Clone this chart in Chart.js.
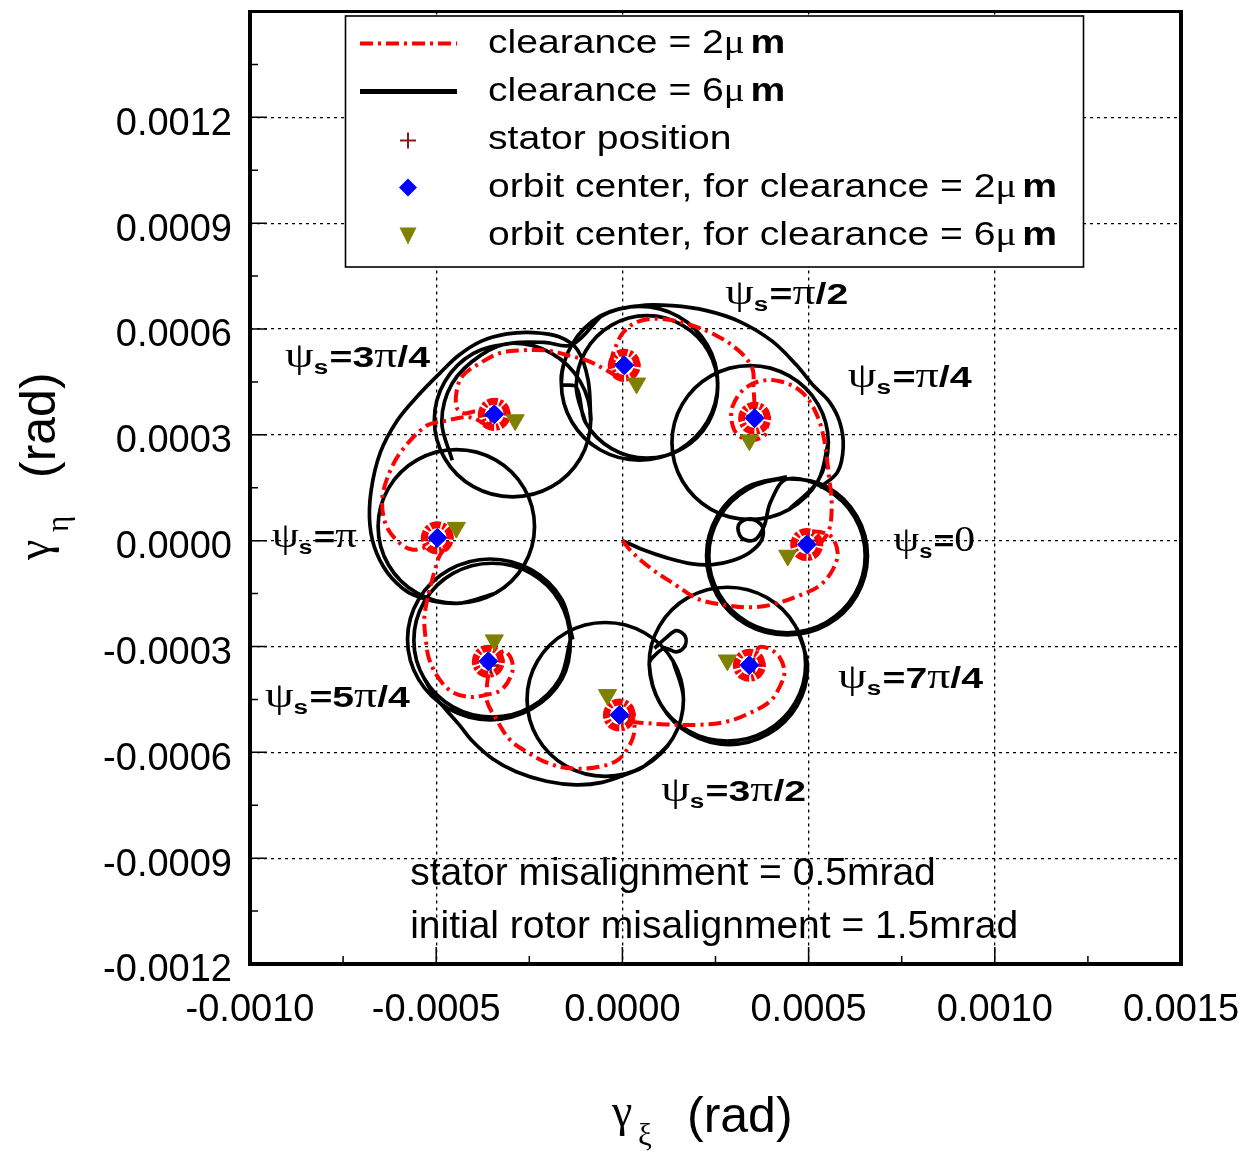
<!DOCTYPE html>
<html>
<head>
<meta charset="utf-8">
<title>Orbit of the rotor tilt</title>
<script src="https://cdn.jsdelivr.net/npm/chart.js"></script>
<style>
  html, body { margin: 0; padding: 0; background: #fff; }
  canvas { display: block; }
</style>
</head>
<body>
<canvas id="c" width="1252" height="1155"></canvas>
<script>
// All coordinates below are listed in units of 1e-4 rad ([gamma_xi, gamma_eta]).
const UNIT = 1e-4;

// Axis ticks (rad)
const xTickValues = [-0.0010, -0.0005, 0, 0.0005, 0.0010, 0.0015];
const xTickLabels = ['-0.0010', '-0.0005', '0.0000', '0.0005', '0.0010', '0.0015'];
const xMinorTicks = [-0.00075, -0.00025, 0.00025, 0.00075, 0.00125];
const yTickValues = [-0.0012, -0.0009, -0.0006, -0.0003, 0, 0.0003, 0.0006, 0.0009, 0.0012];
const yTickLabels = ['-0.0012', '-0.0009', '-0.0006', '-0.0003', '0.0000', '0.0003', '0.0006', '0.0009', '0.0012'];
const yMinorTicks = [-0.00105, -0.00075, -0.00045, -0.00015, 0.00015, 0.00045, 0.00075, 0.00105, 0.00135];

// Stator positions and orbit centres, one per stator angle psi_s = 0, pi/4, ..., 7pi/4
const statorPos = [[5,0],[3.54,3.54],[0,5],[-3.54,3.54],[-5,0],[-3.54,-3.54],[0,-5],[3.54,-3.54]];
const orbitCenter2um = [[4.95,-0.11],[3.55,3.47],[0.05,4.97],[-3.44,3.58],[-4.97,0.08],[-3.60,-3.42],[-0.08,-4.94],[3.41,-3.53]];
const orbitCenter6um = [[4.44,-0.42],[3.41,2.85],[0.38,4.46],[-2.88,3.42],[-4.46,0.37],[-3.44,-2.82],[-0.40,-4.37],[2.82,-3.39]];

// clearance = 2 um : transients between successive stator angles
const redTrack0 = [[0,0],[0.27,-0.34],[0.81,-0.82],[1.45,-1.27],[2.07,-1.67],[2.80,-1.83],[3.41,-1.89],[4.03,-1.81],[4.76,-1.55],[5.30,-1.27],[5.65,-0.82],[5.78,-0.34],[5.62,0.10],[5.30,0.25],[5.00,0.26]];
const redTrack1 = [[5.30,-0.11],[5.55,0.30],[5.62,1.00],[5.56,1.72],[5.38,3.05],[5.11,3.81],[4.76,4.26],[4.22,4.52],[3.68,4.52],[3.23,4.26],[2.96,3.81],[2.93,3.42],[3.06,3.05],[3.41,2.85],[3.82,2.99],[3.90,3.30]];
const redTrack2 = [[3.55,3.84],[3.52,4.35],[3.49,4.88],[3.15,5.36],[2.53,5.81],[1.72,6.15],[0.99,6.29],[0.40,6.20],[0.02,5.90],[-0.18,5.50],[-0.30,5.10],[-0.28,4.85]];
const redTrack3 = [[-0.13,4.65],[-0.43,4.83],[-0.89,5.08],[-1.34,5.22],[-2.04,5.39],[-2.77,5.39],[-3.31,5.31],[-3.84,5.02],[-4.30,4.66],[-4.46,4.18],[-4.44,3.75],[-4.25,3.61],[-3.95,3.66],[-3.74,3.60]];
const redTrack4 = [[-3.62,3.26],[-4.11,3.50],[-4.78,3.39],[-5.27,3.25],[-5.91,2.57],[-6.26,1.92],[-6.45,1.16],[-6.34,0.42],[-5.99,-0.06],[-5.65,-0.25],[-5.32,-0.20],[-5.20,-0.08]];
const redTrack5 = [[-4.79,-0.24],[-4.92,-0.45],[-5.00,-0.71],[-5.13,-1.19],[-5.24,-1.67],[-5.32,-2.23],[-5.27,-2.88],[-5.19,-3.36],[-4.92,-3.92],[-4.57,-4.29],[-4.11,-4.43],[-3.66,-4.37],[-3.23,-4.21],[-2.96,-3.73],[-2.98,-3.36],[-3.17,-3.12],[-3.30,-3.23]];
const redTrack6 = [[-3.60,-3.79],[-3.64,-4.15],[-3.63,-4.57],[-3.39,-5.05],[-3.04,-5.62],[-2.58,-5.98],[-1.96,-6.32],[-1.34,-6.46],[-0.62,-6.41],[-0.08,-6.18],[0.27,-5.62],[0.32,-5.14],[0.22,-4.90]];
const redTrack7 = [[0.22,-5.13],[0.60,-5.17],[1.18,-5.21],[2.07,-5.22],[2.80,-5.13],[3.33,-4.93],[3.95,-4.57],[4.22,-4.15],[4.35,-3.73],[4.22,-3.30],[3.95,-3.07],[3.68,-3.02],[3.59,-3.21]];

// clearance = 2 um : settled orbits
const redOrbit0 = [[5.30,-0.11],[5.25,0.08],[5.13,0.21],[4.95,0.26],[4.77,0.21],[4.65,0.08],[4.60,-0.11],[4.65,-0.30],[4.77,-0.43],[4.95,-0.48],[5.13,-0.43],[5.25,-0.30],[5.30,-0.11],[5.25,0.08]];
const redOrbit1 = [[3.90,3.47],[3.85,3.66],[3.73,3.79],[3.55,3.84],[3.37,3.79],[3.25,3.66],[3.20,3.47],[3.25,3.28],[3.37,3.15],[3.55,3.10],[3.73,3.15],[3.85,3.28],[3.90,3.47],[3.85,3.66]];
const redOrbit2 = [[0.40,4.97],[0.35,5.16],[0.23,5.29],[0.05,5.34],[-0.13,5.29],[-0.25,5.16],[-0.30,4.97],[-0.25,4.78],[-0.13,4.65],[0.05,4.60],[0.23,4.65],[0.35,4.78],[0.40,4.97],[0.35,5.16]];
const redOrbit3 = [[-3.09,3.58],[-3.14,3.77],[-3.26,3.90],[-3.44,3.95],[-3.62,3.90],[-3.74,3.77],[-3.79,3.58],[-3.74,3.39],[-3.62,3.26],[-3.44,3.21],[-3.26,3.26],[-3.14,3.39],[-3.09,3.58],[-3.14,3.77]];
const redOrbit4 = [[-4.62,0.08],[-4.67,0.27],[-4.79,0.40],[-4.97,0.45],[-5.15,0.40],[-5.27,0.27],[-5.32,0.08],[-5.27,-0.11],[-5.15,-0.24],[-4.97,-0.29],[-4.79,-0.24],[-4.67,-0.11],[-4.62,0.08],[-4.67,0.27]];
const redOrbit5 = [[-3.25,-3.42],[-3.30,-3.23],[-3.42,-3.10],[-3.60,-3.05],[-3.78,-3.10],[-3.90,-3.23],[-3.95,-3.42],[-3.90,-3.61],[-3.78,-3.74],[-3.60,-3.79],[-3.42,-3.74],[-3.30,-3.61],[-3.25,-3.42],[-3.30,-3.23]];
const redOrbit6 = [[0.27,-4.94],[0.22,-4.75],[0.10,-4.62],[-0.08,-4.57],[-0.26,-4.62],[-0.38,-4.75],[-0.43,-4.94],[-0.38,-5.13],[-0.26,-5.26],[-0.08,-5.31],[0.10,-5.26],[0.22,-5.13],[0.27,-4.94],[0.22,-4.75]];
const redOrbit7 = [[3.76,-3.53],[3.71,-3.34],[3.59,-3.21],[3.41,-3.16],[3.23,-3.21],[3.11,-3.34],[3.06,-3.53],[3.11,-3.72],[3.23,-3.85],[3.41,-3.90],[3.59,-3.85],[3.71,-3.72],[3.76,-3.53],[3.71,-3.34]];

// clearance = 6 um : transient plus settled orbit for each stator angle
const blackTrack0 = [[0,0],[0.54,-0.25],[1.18,-0.48],[1.88,-0.66],[2.42,-0.68],[2.96,-0.56],[3.41,-0.34],[3.73,0.00],[3.76,0.40],[3.44,0.62],[3.12,0.45],[3.20,0.08],[3.55,0.02],[3.80,0.40],[3.98,1.10],[4.42,1.75],[5.47,1.46],[6.24,0.66],[6.52,-0.43],[6.24,-1.52],[5.47,-2.32],[4.42,-2.61],[3.37,-2.32],[2.60,-1.52],[2.32,-0.43],[2.60,0.66],[3.37,1.46],[4.42,1.75],[5.50,1.52],[6.29,0.70],[6.58,-0.43],[6.29,-1.56],[5.50,-2.38],[4.42,-2.67],[3.34,-2.38],[2.55,-1.56],[2.26,-0.43],[2.55,0.70],[3.34,1.52],[4.42,1.81]];
const blackTrack1 = [[4.48,0.89],[5.25,1.69],[5.53,2.78],[5.25,3.87],[4.48,4.67],[3.43,4.96],[2.38,4.67],[1.61,3.87],[1.33,2.78],[1.61,1.69],[2.38,0.89],[3.43,0.60],[4.48,0.89],[5.25,1.69],[5.53,2.78]];
const blackTrack2 = [[5.30,1.50],[5.78,1.95],[5.93,2.65],[5.84,3.35],[5.55,3.95],[5.11,4.42],[4.68,4.97],[4.03,5.65],[3.15,6.21],[2.26,6.52],[1.34,6.66],[0.46,6.66],[-0.59,6.37],[-1.36,5.55],[-1.64,4.46],[-1.36,3.37],[-0.59,2.57],[0.46,2.28],[1.51,2.57],[2.28,3.37],[2.56,4.46],[2.28,5.55],[1.51,6.35],[0.46,6.64],[-0.59,6.35],[-1.36,5.55],[-1.64,4.46],[-1.24,4.36],[-0.99,3.35],[-0.29,2.61],[0.66,2.34],[1.61,2.61],[2.31,3.35],[2.56,4.36],[2.31,5.37],[1.61,6.11],[0.66,6.38],[-0.29,6.11],[-0.99,5.37],[-1.24,4.36],[-0.99,3.35]];
const blackTrack3 = [[-0.59,6.35],[-1.36,5.55],[-2.10,5.62],[-2.95,5.60],[-4.00,5.31],[-4.77,4.51],[-5.05,3.42],[-4.77,2.33],[-4.00,1.53],[-2.95,1.24],[-1.90,1.53],[-1.13,2.33],[-0.85,3.42],[-1.13,4.51],[-1.90,5.31],[-2.95,5.60],[-3.80,5.26],[-4.57,4.46],[-4.85,3.37],[-4.57,2.28]];
const blackTrack4 = [[-0.85,3.42],[-0.92,4.55],[-1.20,5.40],[-1.70,5.78],[-2.40,5.90],[-3.10,5.86],[-3.80,5.65],[-4.40,5.25],[-4.90,4.75],[-5.50,4.10],[-6.05,3.40],[-6.50,2.50],[-6.75,1.40],[-6.78,0.45],[-6.60,-0.35],[-6.20,-1.05],[-5.59,-1.55],[-4.46,-1.78],[-3.41,-1.49],[-2.64,-0.69],[-2.36,0.40],[-2.64,1.49],[-3.41,2.29],[-4.46,2.58],[-5.51,2.29],[-6.28,1.49],[-6.56,0.40],[-6.28,-0.69],[-5.51,-1.49],[-4.46,-1.78],[-3.41,-1.49]];
const blackTrack5 = [[-1.40,-2.82],[-1.68,-3.91],[-2.45,-4.71],[-3.50,-5.00],[-4.55,-4.71],[-5.32,-3.91],[-5.60,-2.82],[-5.32,-1.73],[-4.55,-0.93],[-3.50,-0.64],[-2.45,-0.93],[-1.68,-1.73],[-1.40,-2.82],[-1.63,-3.94],[-2.44,-4.77],[-3.55,-5.08],[-4.66,-4.77],[-5.47,-3.94],[-5.77,-2.80],[-5.47,-1.66],[-4.66,-0.83],[-3.55,-0.52],[-2.44,-0.83],[-1.63,-1.66],[-1.33,-2.80]];
const blackTrack6 = [[-5.32,-3.91],[-5.05,-4.40],[-4.73,-4.80],[-4.38,-5.22],[-4.03,-5.68],[-3.49,-6.18],[-2.85,-6.55],[-2.04,-6.82],[-1.24,-6.92],[-0.54,-6.85],[0.11,-6.62],[0.59,-6.39],[1.36,-5.59],[1.64,-4.50],[1.36,-3.41],[0.59,-2.61],[-0.46,-2.32],[-1.51,-2.61],[-2.28,-3.41],[-2.56,-4.50],[-2.28,-5.59],[-1.51,-6.39],[-0.46,-6.68],[0.59,-6.39],[1.36,-5.59],[1.64,-4.50],[1.36,-3.41]];
const blackTrack7 = [[0.86,-3.05],[1.21,-2.72],[1.45,-2.55],[1.68,-2.70],[1.68,-2.98],[1.45,-3.15],[1.15,-3.05],[0.90,-3.22],[0.72,-3.50],[1.00,-4.59],[1.77,-5.39],[2.82,-5.68],[3.87,-5.39],[4.64,-4.59],[4.92,-3.50],[4.64,-2.41],[3.87,-1.61],[2.82,-1.32],[1.77,-1.61],[1.00,-2.41],[0.72,-3.50],[1.04,-4.66],[1.82,-5.48],[2.87,-5.78],[3.92,-5.48],[4.69,-4.68],[4.97,-3.58],[4.69,-2.48]];

const redTracks = [redTrack0, redTrack1, redTrack2, redTrack3, redTrack4, redTrack5, redTrack6, redTrack7];
const redOrbits = [redOrbit0, redOrbit1, redOrbit2, redOrbit3, redOrbit4, redOrbit5, redOrbit6, redOrbit7];
const blackTracks = [blackTrack0, blackTrack1, blackTrack2, blackTrack3, blackTrack4, blackTrack5, blackTrack6, blackTrack7];

const SANS = 'Arial, "Liberation Sans", Helvetica, sans-serif';
const SERIF = '"Times New Roman", "Liberation Serif", "DejaVu Serif", serif';
const RED_DASH = [13, 5, 3, 5];

const toXY = arr => arr.map(([x, y]) => ({ x: x * UNIT, y: y * UNIT }));

const lineBase = { showLine: true, pointRadius: 0, pointHoverRadius: 0, pointHitRadius: 0, tension: 0.35, fill: false };

const datasets = [
  { label: 'orbit center, for clearance = 6um', data: toXY(orbitCenter6um), showLine: false,
    pointStyle: 'triangle', pointRotation: 180, pointRadius: 10.5, backgroundColor: '#808000', borderColor: '#808000', borderWidth: 1, order: 0 },
  { label: 'orbit center, for clearance = 2um', data: toXY(orbitCenter2um), showLine: false,
    pointStyle: 'rectRot', pointRadius: 9.5, backgroundColor: '#0000ff', borderColor: '#0000ff', borderWidth: 1, order: 1 },
  { label: 'stator position', data: toXY(statorPos), showLine: false,
    pointStyle: 'cross', pointRadius: 8, borderColor: '#8b1a1a', borderWidth: 2.4, order: 2 },
  ...redTracks.map(p => ({ ...lineBase, label: 'clearance = 2um', data: toXY(p), borderColor: '#ff0000', borderWidth: 4, borderDash: RED_DASH, order: 3 })),
  ...redOrbits.map(p => ({ ...lineBase, label: 'clearance = 2um', data: toXY(p), borderColor: '#ff0000', borderWidth: 7, borderDash: [10, 2, 3, 2], order: 3 })),
  ...blackTracks.map(p => ({ ...lineBase, label: 'clearance = 6um', data: toXY(p), borderColor: '#000000', borderWidth: 3.7, order: 4 }))
];

// ---- text helpers -------------------------------------------------------
function richWidth(ctx, parts) {
  let w = 0;
  parts.forEach(p => { ctx.font = p.f; w += ctx.measureText(p.t).width + (p.gap || 0); });
  return w;
}
function drawRich(ctx, x, y, parts, sx) {
  ctx.save();
  ctx.translate(x, y);
  ctx.scale(sx, 1);
  let cx = 0;
  parts.forEach(p => {
    ctx.font = p.f;
    ctx.fillText(p.t, cx, p.dy || 0);
    cx += ctx.measureText(p.t).width + (p.gap || 0);
  });
  ctx.restore();
}

const G = `35px ${SERIF}`;
const B = `bold 30px ${SANS}`;
function psiParts(tail) {
  return [
    { t: 'ψ', f: G },
    { t: 's', f: `bold 20px ${SANS}`, dy: 7, gap: 1 },
    { t: '=', f: B },
    ...tail.map(([t, k]) => ({ t, f: k === 'g' ? G : B }))
  ];
}

// stator-angle labels: anchor (left, baseline) in 1e-4 rad, drawn width in px
const psiLabels = [
  { x: 2.76,  y: 6.70,  w: 123, tail: [['π','g'],['/2','b']] },
  { x: 6.05,  y: 4.36,  w: 124, tail: [['π','g'],['/4','b']] },
  { x: 7.27,  y: -0.28, w: 82,  tail: [['0','g']] },
  { x: 5.79,  y: -4.17, w: 145, tail: [['7','b'],['π','g'],['/4','b']] },
  { x: 1.04,  y: -7.39, w: 145, tail: [['3','b'],['π','g'],['/2','b']] },
  { x: -9.60, y: -4.71, w: 145, tail: [['5','b'],['π','g'],['/4','b']] },
  { x: -9.41, y: -0.19, w: 85,  tail: [['π','g']] },
  { x: -9.06, y: 4.92,  w: 145, tail: [['3','b'],['π','g'],['/4','b']] }
];

const notes = [
  { x: -5.70, y: -9.76,  text: 'stator misalignment = 0.5mrad' },
  { x: -5.70, y: -11.25, text: 'initial rotor misalignment = 1.5mrad' }
];

function clearanceParts(prefix, n) {
  const f = `34px ${SANS}`;
  return [
    { t: `${prefix}clearance = ${n}`, f },
    { t: 'μ', f: `34px ${SERIF}`, gap: 5 },
    { t: 'm', f: `bold 34px ${SANS}` }
  ];
}

function drawLegend(ctx, a) {
  const L = a.left + 95, T = a.top + 4, W = 738, H = 251;
  ctx.save();
  ctx.fillStyle = '#fff';
  ctx.fillRect(L, T, W, H);
  ctx.strokeStyle = '#000';
  ctx.lineWidth = 1.6;
  ctx.strokeRect(L + 0.5, T + 0.5, W, H);

  const sx0 = L + 15, sx1 = L + 112, mx = L + 63;
  const rows = [T + 28, T + 76, T + 124, T + 172, T + 220];

  // dash-dot red line
  ctx.beginPath();
  ctx.setLineDash(RED_DASH);
  ctx.strokeStyle = '#ff0000';
  ctx.lineWidth = 4;
  ctx.moveTo(sx0, rows[0]); ctx.lineTo(sx1, rows[0]);
  ctx.stroke();
  ctx.setLineDash([]);
  // solid black line
  ctx.beginPath();
  ctx.strokeStyle = '#000';
  ctx.lineWidth = 5;
  ctx.moveTo(sx0, rows[1]); ctx.lineTo(sx1, rows[1]);
  ctx.stroke();
  // stator cross
  ctx.beginPath();
  ctx.strokeStyle = '#8b1a1a';
  ctx.lineWidth = 2;
  ctx.moveTo(mx - 8, rows[2] + 1); ctx.lineTo(mx + 8, rows[2] + 1);
  ctx.moveTo(mx, rows[2] - 7); ctx.lineTo(mx, rows[2] + 9);
  ctx.stroke();
  // blue diamond
  ctx.beginPath();
  ctx.fillStyle = '#0000ff';
  ctx.moveTo(mx - 9, rows[3]); ctx.lineTo(mx, rows[3] - 9); ctx.lineTo(mx + 9, rows[3]); ctx.lineTo(mx, rows[3] + 9);
  ctx.closePath(); ctx.fill();
  // olive triangle
  ctx.beginPath();
  ctx.fillStyle = '#808000';
  ctx.moveTo(mx - 8.5, rows[4] - 8); ctx.lineTo(mx + 8.5, rows[4] - 8); ctx.lineTo(mx, rows[4] + 9);
  ctx.closePath(); ctx.fill();

  ctx.fillStyle = '#000';
  ctx.textBaseline = 'alphabetic';
  const tx = L + 143, sx = 1.15;
  drawRich(ctx, tx, rows[0] + 9, clearanceParts('', 2), sx);
  drawRich(ctx, tx, rows[1] + 9, clearanceParts('', 6), sx);
  drawRich(ctx, tx, rows[2] + 9, [{ t: 'stator position', f: `34px ${SANS}` }], sx);
  drawRich(ctx, tx, rows[3] + 9, clearanceParts('orbit center, for ', 2), sx);
  drawRich(ctx, tx, rows[4] + 9, clearanceParts('orbit center, for ', 6), sx);
  ctx.restore();
}

function drawAxisTitle(ctx, sub, subX, radX) {
  ctx.font = `46px ${SERIF}`; ctx.fillText('γ', 0, -6);
  ctx.font = `31px ${SERIF}`; ctx.fillText(sub, subX, 13);
  ctx.font = `50px ${SANS}`; ctx.fillText('(rad)', radX, 0);
}

const decor = {
  id: 'decor',
  beforeDatasetsDraw(chart) {
    const { ctx, chartArea: a, scales: { x, y } } = chart;
    ctx.save();
    ctx.strokeStyle = '#000';
    ctx.lineWidth = 1.5;
    ctx.beginPath();
    xTickValues.forEach(v => { const p = x.getPixelForValue(v); ctx.moveTo(p, a.bottom); ctx.lineTo(p, a.bottom - 17); });
    xMinorTicks.forEach(v => { const p = x.getPixelForValue(v); ctx.moveTo(p, a.bottom); ctx.lineTo(p, a.bottom - 8); });
    yTickValues.forEach(v => { const p = y.getPixelForValue(v); ctx.moveTo(a.left, p); ctx.lineTo(a.left + 17, p); });
    yMinorTicks.forEach(v => { const p = y.getPixelForValue(v); ctx.moveTo(a.left, p); ctx.lineTo(a.left + 8, p); });
    ctx.stroke();
    ctx.lineWidth = 4;
    ctx.beginPath();
    ctx.moveTo(a.left, a.top - 1); ctx.lineTo(a.left, a.bottom); ctx.lineTo(a.right, a.bottom); ctx.lineTo(a.right, a.top - 1);
    ctx.stroke();
    ctx.lineWidth = 3;
    ctx.beginPath();
    ctx.moveTo(a.left - 2, a.top); ctx.lineTo(a.right + 2, a.top);
    ctx.stroke();
    ctx.restore();
  },
  afterDraw(chart) {
    const { ctx, chartArea: a, scales: { x, y } } = chart;
    ctx.save();
    ctx.fillStyle = '#000';
    ctx.textBaseline = 'alphabetic';
    ctx.textAlign = 'left';

    psiLabels.forEach(l => {
      const parts = psiParts(l.tail);
      const sx = l.w / richWidth(ctx, parts);
      drawRich(ctx, x.getPixelForValue(l.x * UNIT), y.getPixelForValue(l.y * UNIT), parts, sx);
    });

    notes.forEach(n => {
      ctx.font = `39px ${SANS}`;
      ctx.fillText(n.text, x.getPixelForValue(n.x * UNIT), y.getPixelForValue(n.y * UNIT));
    });

    drawLegend(ctx, a);

    // horizontal axis title
    ctx.save();
    ctx.translate(612, 1132);
    drawAxisTitle(ctx, 'ξ', 26, 75);
    ctx.restore();
    // vertical axis title
    ctx.save();
    ctx.translate(55, 560);
    ctx.rotate(-Math.PI / 2);
    drawAxisTitle(ctx, 'η', 28, 82);
    ctx.restore();

    ctx.restore();
  }
};

const gridOpts = { color: '#000', lineWidth: 1.3, drawTicks: false };
const borderOpts = { display: false, dash: [3, 4] };

new Chart(document.getElementById('c'), {
  type: 'scatter',
  data: { datasets },
  options: {
    responsive: false,
    devicePixelRatio: 1,
    animation: false,
    events: [],
    layout: { padding: { left: 0, top: 8, right: 71, bottom: 131 } },
    plugins: { legend: { display: false }, tooltip: { enabled: false }, title: { display: false } },
    scales: {
      x: {
        type: 'linear', min: -0.0010, max: 0.0015,
        afterBuildTicks: s => { s.ticks = xTickValues.map(v => ({ value: v })); },
        afterFit: s => { s.height = 60; s.paddingLeft = 0; s.paddingRight = 0; },
        ticks: { callback: (v, i) => xTickLabels[i], color: '#000', font: { size: 38, family: SANS }, padding: 24, autoSkip: false, maxRotation: 0, minRotation: 0 },
        grid: gridOpts, border: borderOpts
      },
      y: {
        type: 'linear', min: -0.0012, max: 0.0015,
        afterBuildTicks: s => { s.ticks = yTickValues.map(v => ({ value: v })); },
        afterFit: s => { s.width = 250; s.paddingTop = 0; s.paddingBottom = 0; },
        ticks: { callback: (v, i) => yTickLabels[i], color: '#000', font: { size: 38, family: SANS }, padding: 18, labelOffset: 7, autoSkip: false },
        grid: gridOpts, border: borderOpts
      }
    }
  },
  plugins: [decor]
});
</script>
</body>
</html>
